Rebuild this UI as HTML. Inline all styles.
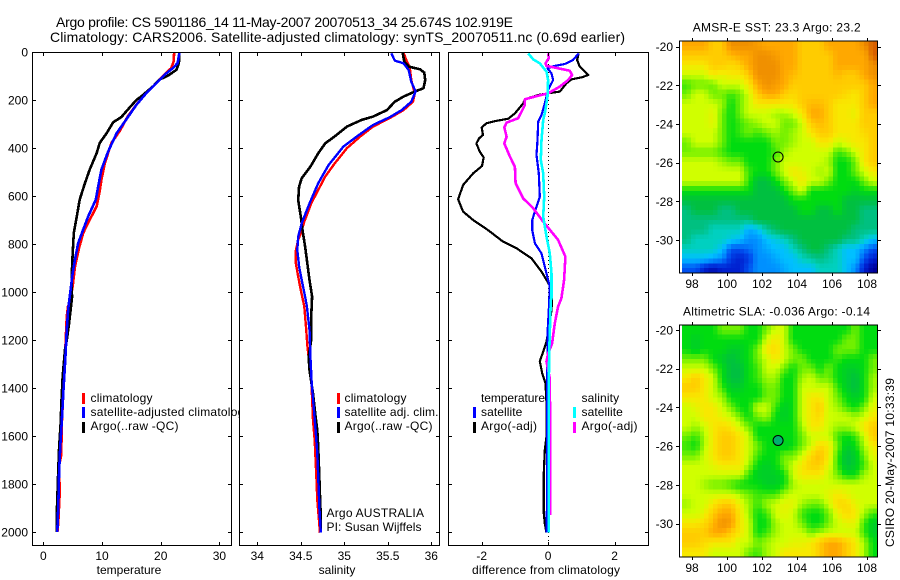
<!DOCTYPE html>
<html lang="en">
<head>
<meta charset="utf-8">
<title>Argo profile CS 5901186_14</title>
<style>
html,body{margin:0;padding:0;background:#fff;width:900px;height:580px;overflow:hidden}
svg{display:block;font-family:"Liberation Sans",Arial,sans-serif;font-size:12px;fill:#000}
.title{font-size:14px}
.frame{fill:none;stroke:#000;stroke-width:1;shape-rendering:crispEdges}
</style>
</head>
<body>
<svg id="figure" width="900" height="580" viewBox="0 0 900 580" xmlns="http://www.w3.org/2000/svg">
  <text class="title" x="56" y="27" textLength="457">Argo profile: CS 5901186_14 11-May-2007 20070513_34 25.674S 102.919E</text>
  <text class="title" x="50" y="42" textLength="575">Climatology: CARS2006. Satellite-adjusted climatology: synTS_20070511.nc (0.69d earlier)</text>

  <g id="panel-t">
    <g id="lines-t"></g>
    <rect x="82" y="393" width="3" height="11" fill="#ff0000"/>
    <rect x="82" y="407" width="3" height="11" fill="#0000ff"/>
    <rect x="82" y="422" width="3" height="11" fill="#000000"/>
    <text x="90.5" y="402" textLength="62">climatology</text>
    <text x="90.5" y="416" textLength="160">satellite-adjusted climatology</text>
    <text x="90.5" y="430" textLength="88">Argo(..raw -QC)</text>
    <text x="129" y="574" text-anchor="middle">temperature</text>
  </g>

  <g id="panel-s">
    <rect x="239" y="52" width="201" height="494" fill="#fff"/>
    <g id="lines-s"></g>
    <rect x="337" y="393" width="3" height="11" fill="#ff0000"/>
    <rect x="337" y="407" width="3" height="11" fill="#0000ff"/>
    <rect x="337" y="422" width="3" height="11" fill="#000000"/>
    <text x="344.5" y="402" textLength="62">climatology</text>
    <text x="344.5" y="416" textLength="94">satellite adj. clim.</text>
    <text x="344.5" y="430" textLength="88">Argo(..raw -QC)</text>
    <text x="326.5" y="517" textLength="97.5">Argo AUSTRALIA</text>
    <text x="326.5" y="531" textLength="95">PI: Susan Wijffels</text>
    <text x="337" y="574" text-anchor="middle">salinity</text>
  </g>

  <g id="panel-d">
    <rect x="448" y="52" width="201" height="494" fill="#fff"/>
    <g id="lines-d"></g>
    <text x="481" y="402" textLength="64">temperature</text>
    <rect x="473" y="407" width="3" height="11" fill="#0000ff"/>
    <rect x="473" y="422" width="3" height="11" fill="#000000"/>
    <text x="481" y="416" textLength="41.3">satellite</text>
    <text x="481" y="430" textLength="56">Argo(-adj)</text>
    <text x="581.5" y="402" textLength="37.6">salinity</text>
    <rect x="573" y="407" width="3" height="11" fill="#00ffff"/>
    <rect x="573" y="422" width="3" height="11" fill="#ff00ff"/>
    <text x="581.5" y="416" textLength="41.3">satellite</text>
    <text x="581.5" y="430" textLength="56">Argo(-adj)</text>
    <text x="472" y="574" textLength="148">difference from climatology</text>
  </g>

  <g id="panel-sst">
    <text x="692.7" y="31.5" textLength="168">AMSR-E SST: 23.3 Argo: 23.2</text>
  </g>
  <g id="panel-sla">
    <text x="683" y="315.5" textLength="187">Altimetric SLA: -0.036 Argo: -0.14</text>
  </g>
  <text transform="translate(894,547) rotate(-90)" textLength="169">CSIRO 20-May-2007 10:33:39</text>
</svg>

<script>
// ---------- axis tick labels ----------
const depthTicks = [0, 200, 400, 600, 800, 1000, 1200, 1400, 1600, 1800, 2000];
const tempTicks = [0, 10, 20, 30];
const salTicks = [34, 34.5, 35, 35.5, 36];
const diffTicks = [-2, 0, 2];
const lonTicks = [98, 100, 102, 104, 106, 108];
const latTicks = [-20, -22, -24, -26, -28, -30];

// ---------- temperature profiles ----------
const tempClimValues = [22.3,22.2,21.8,20.4,19,17.6,16.1,14.4,13,11.6,10.5,9.9,9.6,9.1,7.9,6.8,6.1,5.4,5,4.5,4.2,4,3.85,3.7,3.4,3.17,3.05,2.6,2.83,2.55,2.4];
const tempClimDepths = [0,40,67,100,136,170,212,268,330,379,462,532,580,643,699,754,816,893,976,1045,1060,1100,1180,1280,1420,1540,1680,1735,1820,1960,2000];
const tempArgoValues = [23.2,23.1,22.7,21.2,19.8,18.7,16.7,15.9,14.4,13.3,11.9,10.8,9.6,9.1,7.9,7.1,6.2,5.7,5.2,5,4.9,4.8,4.9,4.4,4,3.7,3.3,3.1,2.95,2.7,2.55,2.4,2.27,2.3];
const tempArgoDepths = [0,46,74,99,115,143,185,199,240,271,293,338,379,421,490,546,615,685,754,838,893,976,1020,1130,1200,1240,1350,1450,1550,1650,1735,1850,1945,2000];
const tempSatValues = [23.2,22.9,22.1,20.7,19.3,17.6,15.9,13.9,12.5,11.05,9.9,9.35,8.95,7.65,6.8,5.95,5.4,5,4.65,4.25,3.97,3.74,3.4,3.17,2.9,2.7,2.55,2.38];
const tempSatDepths = [0,46,67,94,129,170,219,289,338,414,490,560,615,685,740,796,865,921,990,1070,1170,1280,1420,1530,1640,1750,1890,2000];

// ---------- salinity profiles ----------
const salClimValues = [35.68,35.72,35.75,35.77,35.81,35.79,35.68,35.52,35.33,35.18,35.03,34.89,34.78,34.7,34.62,34.54,34.5,34.47,34.44,34.44,34.47,34.5,34.54,34.56,34.575,34.59,34.62,34.64,34.66,34.67,34.68,34.69,34.71,34.72];
const salClimDepths = [3,40,61,117,172,207,242,276,311,353,401,464,519,575,631,707,756,783,832,874,936,992,1061,1145,1221,1270,1353,1533,1617,1700,1783,1867,1957,2003];
const salArgoValues = [35.67,35.69,35.74,35.87,35.92,35.93,35.91,35.81,35.68,35.58,35.49,35.33,35.2,35.03,34.91,34.78,34.7,34.61,34.51,34.48,34.47,34.5,34.52,34.55,34.57,34.6,34.63,34.62,34.62,34.59,34.6,34.64,34.67,34.69,34.7,34.71,34.72,34.73,34.73];
const salArgoDepths = [3,40,61,72,86,117,151,165,186,207,242,269,283,311,346,381,422,478,526,561,617,686,742,811,867,950,1019,1103,1200,1270,1325,1422,1520,1575,1645,1742,1839,1936,2003];
const salSatValues = [35.54,35.58,35.68,35.74,35.77,35.82,35.77,35.66,35.52,35.33,35.14,34.99,34.82,34.7,34.6,34.51,34.47,34.46,34.48,34.51,34.55,34.57,34.6,34.61,34.625,34.645,34.67,34.69,34.705,34.715,34.73];
const salSatDepths = [6,36,47,75,124,165,207,242,272,304,353,394,471,547,631,714,769,825,894,950,1019,1061,1158,1270,1380,1464,1575,1672,1811,1908,2003];

// ---------- differences from climatology ----------
const diffArgoTempValues = [0.92,0.87,0.95,1.06,1.21,1,0.7,0.55,0.35,0,-0.3,-0.7,-0.75,-1,-1.2,-1.6,-1.86,-2,-1.96,-2.08,-2.16,-2.06,-1.94,-1.99,-2.26,-2.56,-2.71,-2.56,-2.26,-1.81,-1.36,-0.95,-0.5,-0.2,-0.05,0.1,0.12,0.1,0.03,-0.05,-0.15,-0.25,-0.18,-0.08,-0.05,-0.05,-0.1,-0.13,-0.13,-0.1,-0.05];
const diffArgoTempDepths = [6,33,61,75,96,106,114,131,165,172,179,197,214,256,278,288,297,314,346,360,381,415,439,475,506,554,614,665,700,742,790,818,860,915,950,985,1026,1075,1145,1207,1249,1288,1339,1380,1464,1603,1658,1755,1922,1964,2003];
const diffSatTempValues = [0.92,0.75,0.5,0.2,-0.02,0.1,0.15,0,-0.1,-0.2,-0.3,-0.32,-0.35,-0.28,-0.25,-0.48,-0.48,-0.4,-0.2,-0.05,0.05,0.02,-0.02,-0.03,-0.04];
const diffSatTempDepths = [6,33,50,58,68,89,117,158,214,262,290,367,429,506,603,700,742,797,839,922,978,1075,1172,1408,2003];
const diffSatSalValues = [-0.6,-0.45,-0.25,-0.05,0,-0.02,-0.1,-0.15,-0.2,-0.22,-0.15,-0.12,-0.15,-0.05,0.05,0.1,0.1,0.08,0.06,0.03,0.02,0.02];
const diffSatSalDepths = [6,31,47,82,117,186,256,283,367,450,506,603,686,769,839,922,1026,1033,1130,1270,1408,2003];
const diffArgoSalValues = [0,0.02,-0.08,-0.05,0.3,0.65,0.72,0.6,0.35,0,-0.4,-0.7,-0.7,-0.9,-1.25,-1.32,-1.25,-1.32,-1.15,-1,-0.98,-0.75,-0.45,-0.15,0.1,0.3,0.52,0.48,0.4,0.3,0.2,0.12,0,-0.05,0.05,0.06,0.06];
const diffArgoSalDepths = [6,26,47,58,68,78,96,117,144,172,186,197,221,276,294,314,353,381,436,478,547,610,651,707,749,783,853,950,1026,1061,1130,1214,1256,1290,1360,1547,1929];

// ---------- profile location ----------
const floatLon = 102.919;
const floatLat = -25.674;

// ---------- map colour indices: 0 navy .. 15 dark orange, rows run north to south, read at 0.5 degree spacing ----------
const sstRows = [
[13,13,13,12,12,14,14,14,13.5,13,13,13,13,12,12,12,13,13,13,13,14,15],
[12,12,12,12,12,12.5,13,13,14,14,13.5,13,13,12,12,12,12,13,13,13,13,15],
[11,11,11,12,12,11.5,12,13,14,14,14,13,13,12,12,12,12,13,13,13,13,14],
[10,10,10,11,10.5,11,11,12,14,14,14,13,12.5,12,12,12,12,12.5,12,12,13,14],
[8.5,9,9,9,10,10,10,11,13,14,13.5,13,12,12,12,12,12,12,12,12,12,13],
[9,10,10,9,9,8.5,9,10,12,13,13,12,11.5,12,12,12,12,12,11.5,11,12,13],
[10,10,10,10,9.5,8,9,10,11,11,11,11,11,12,12.5,12.5,12,11,11,11,12,13],
[10,10,10,10.5,9,8,9,10,10,10,9.5,9.5,10,11,13,13,12,11,11,10.5,12,12],
[10,10,10,10.5,9,8,8.5,9,9.5,10,10,9,9,10,12,12.5,12,11,11,11,12,12],
[10,10,10,10,9,8,8.5,9,8.5,9,9.5,9,9.5,10,11,12,12,11,11,11,11.5,12],
[9,10,10,10,9,8,8,8,8,8,9,9,9.5,10,10,11,11,10,10.5,11,11,12],
[9,9,9,9,8.5,8,8,8,8,8,8.5,9.5,10,10,10,10,10,8.5,9,10,11,12],
[10,10,10,10,9.5,9,9,8,8,8,9,10,10,10,10,10,9.5,8,8,9,11,12],
[10,10,10,10,10,10,10,8.5,8,8,9,10,11,10.5,10,9.5,10,8,8,9,10,11],
[10,10,10,10,10,10,10,8.5,7,7,8,9,10,11,10,10,9,8,8,8,9,10],
[8,8,8,8,8,8,8,8,7,7,7,8,9,10,8,8,8,8,8,7.5,8,8],
[7,7,7,7,7,7,7,7,7,7,7,7,8,8,8,8,8,8,7,7,7,7],
[6,7,7,7,6,6,7,7,7,7,7,7,7,8,8,7,7,8,7,7,6,6],
[6,6,6,6,6,6,6,6,7,7,7,7,7,7,7,7,7,7,7,7,6,6],
[6,6,6,5,5,5,5,3.5,4,5.5,6.5,7,7,7,7,7,7,7,7,6,6,6],
[6,5,5,5,5,4.5,4,3,3,4,4.5,5,6,7,7,7,7,7,6,6,5,4],
[5,5,5,5,4,2,2,2.5,3,3.5,4,4,5,6,7,7,6,5,4,4,3,2],
[4,4,4,3.5,3,1.5,1,1.5,3,3,3.5,4,4,5,5.5,6,5.5,5,4,4,2,1],
[2,2,1,0.5,1,1,1,2,3,3,3,3.5,4,4,4,5,5,5,4,3,1,0]
];
const slaRows = [
[8,8,8,8,9,9,9,8,8,9,10,10,8,8,8,8,8,8,8,9,8,8],
[8,7.5,8,8,8,8,8,8,8,10,11,10,8,8,8,8,8,8,9,9,8,8],
[8,7.5,8,8,8,7.5,7.5,8,9,11,11.5,10,9,8,8,8,8,9,9,9,8,8],
[9,9,9,8,7.5,7,7.5,8,9,10,11,10,9,9,8,8,8,8.5,8,8,8,9],
[10,10,10,9,8,7,7,8,8.5,10,10,9,8,9,9,8,9,8,7.5,7.5,8,9],
[11,12,11,10,8,7,7,8,8.5,9.5,9.5,8,8,9.5,10,9,9,8,7.5,7,8,9.5],
[12,12,11,10,8.5,7.5,7.5,8,8,9,9,8,8,10,10,10,10,8.5,7.5,7,8,9.5],
[11,11,11,10,9.5,8,8,8,8,9,9,8,8,10,11,11,10,9,8,7.5,8,10],
[10,10.5,11,11,10,9,8,8,10,10,8.5,7.5,8,10,11,12,10,9.5,8.5,8,9,10.5],
[10,10,11,11,10.5,10,9,8,9,9.5,8,7.5,8,10,11,11.5,10,10,10,9.5,10,11],
[10,9.5,10,11,11.5,11,10,9,8,8,8,8,8,9.5,11,11,10,9.5,9.5,10,11,12],
[9,8.5,9.5,11,12,12,11,10,8,8,8,8,8,9,10,10,10,8.5,8,8.5,10,12],
[8.5,8,9.5,11,12,12,11,10,9,8,8,7.5,8,9,10,11.5,11,9,7.5,8,9.5,11],
[9,9,10,11,12,12,11,10,8.5,8,8,9,9,10,11.5,12.5,11,8.5,7,7.5,9,10.5],
[10,10,10,10.5,11,11,11,9.5,8,7.5,8,9,10,11,12,12,10.5,8.5,7,7.5,8.5,10],
[10,10,10,10,10,10,10,8.5,7.5,7.5,7.5,8,10,11,11,11,10,9,8,8,9.5,10],
[10,10,9.5,9,9,8.5,8,8,8,7.5,7.5,8,9.5,10,10,10,10,10,10,10,10,10],
[10,10,10,10,10,10,9.5,9,8.5,8.5,8.5,9.5,10,10,10,10,10.5,11,10.5,10,10,10],
[9.5,10,10,11,12,12,10.5,9.5,8.5,9.5,10,10.5,10.5,9.5,9,9,10,11.5,11.5,10.5,10,10],
[10,10,10.5,12,13,13,11,9.5,8,8.5,10,10.5,10,8.5,8,8,9,10.5,11.5,11,9.5,8.5],
[11,11,11.5,12.5,14,13.5,11,10,8,8,9.5,10,10,9,8,8,9,10,10.5,10.5,8.5,7.5],
[12,12,12,13,13,12,11,10,8,8.5,9.5,10,10,10,9,9.5,10,10,10,10,8.5,7.5],
[12,12,11.5,11,11,11,10,10,9,9.5,10,10,10.5,10.5,11,12,13,13,12,11,9.5,8],
[11,11,11,10,10,10,10,9,8.5,9.5,10,11,11,11,11,12,13,13,12,11,9.5,8]
];
const paletteStops = ['#000099','#0020d0','#0050f0','#0090ff','#00c0ff','#00d0c0','#00c080','#00c040','#00dc10','#70f000','#d0ff00','#f8e800','#ffcc00','#ffa800','#f09000','#d86000'];

// ---------- rendering ----------
const NS = 'http://www.w3.org/2000/svg';
function make(tag, parent, attrs) {
  const el = document.createElementNS(NS, tag);
  for (const k in attrs) el.setAttribute(k, attrs[k]);
  parent.appendChild(el);
  return el;
}
function depthAxis(d) { return 52 + d * 0.24; }
function linear(v0, p0, v1, p1) { return function (v) { return p0 + (v - v0) * (p1 - p0) / (v1 - v0); }; }

const tempX = linear(0, 43.3, 30, 219.4);
const salX = linear(34, 257.3, 36, 431.3);
const diffX = linear(-2, 481.7, 2, 614.6);

function drawProfile(group, values, depths, xAxis, colour, width, name) {
  const pts = values.map(function (v, i) { return xAxis(v).toFixed(1) + ',' + depthAxis(depths[i]).toFixed(1); }).join(' ');
  const el = make('polyline', group, { points: pts, fill: 'none', stroke: colour, 'stroke-width': width, 'stroke-linejoin': 'round', 'shape-rendering': 'crispEdges' });
  
  
}

function drawProfileAxes(panel, left, right, xTicks, xAxis, showDepthLabels) {
  const frame = make('rect', panel, { x: left + 0.5, y: 52.5, width: right - left, height: 493, class: 'frame' });
  
  
  xTicks.forEach(function (t) {
    const x = Math.round(xAxis(t)) + 0.5;
    const top = make('path', panel, { d: 'M' + x + ' 52V56M' + x + ' 546V542', stroke: '#000', 'shape-rendering': 'crispEdges', fill: 'none' });
    
    
    const label = make('text', panel, { x: xAxis(t), y: 560, 'text-anchor': 'middle' });
    label.textContent = String(t);
    
    
  });
  depthTicks.forEach(function (d) {
    const y = Math.round(depthAxis(d)) + 0.5;
    const tick = make('path', panel, { d: 'M' + left + ' ' + y + 'h4M' + (right + 1) + ' ' + y + 'h-4', stroke: '#000', 'shape-rendering': 'crispEdges', fill: 'none' });
    
    
    if (showDepthLabels) {
      const label = make('text', panel, { x: 28, y: depthAxis(d) + 4.5, 'text-anchor': 'end' });
      label.textContent = String(d);
      
      
    }
  });
}

function paletteColour(level) {
  const c = Math.max(0, Math.min(paletteStops.length - 1, level));
  const i = Math.min(paletteStops.length - 2, Math.floor(c));
  const f = c - i;
  const a = paletteStops[i], b = paletteStops[i + 1];
  const out = [1, 3, 5].map(function (p) {
    const va = parseInt(a.substr(p, 2), 16), vb = parseInt(b.substr(p, 2), 16);
    return Math.round(va + (vb - va) * f);
  });
  return 'rgb(' + out.join(',') + ')';
}

// The map image shows 0.25 degree cells; each is shaded from the neighbouring 0.5 degree values in the rows array.
function sampleGrid(rows, r, c) {
  const nr = rows.length, nc = rows[0].length;
  const rr = Math.max(0, Math.min(nr - 1, r));
  const cc = Math.max(0, Math.min(nc - 1, c));
  const r0 = Math.floor(rr), c0 = Math.floor(cc);
  const r1 = Math.min(nr - 1, r0 + 1), c1 = Math.min(nc - 1, c0 + 1);
  const fr = rr - r0, fc = cc - c0;
  return (rows[r0][c0] * (1 - fc) + rows[r0][c1] * fc) * (1 - fr) + (rows[r1][c0] * (1 - fc) + rows[r1][c1] * fc) * fr;
}

function drawMap(panel, rows, latY, top, bottom, circleFill) {
  const lonX = linear(100, 727, 108, 867);
  const left = 682, right = 877.5, frameLeft = 679;
  const nRows = rows.length * 2, nCols = rows[0].length * 2;
  const cw = (right - left) / nCols;
  const ch = (bottom - top) / nRows;
  for (let r = 0; r < nRows; r++) {
    for (let c = 0; c < nCols; c++) {
      const v = sampleGrid(rows, (r + 0.5) / 2 - 0.5, (c + 0.5) / 2 - 0.5);
      const cell = make('rect', panel, { x: (left + c * cw).toFixed(2), y: (top + r * ch).toFixed(2), width: (cw + 0.6).toFixed(2), height: (ch + 0.6).toFixed(2), fill: paletteColour(v), 'shape-rendering': 'crispEdges' });
      
      
    }
  }
  const blank = make('rect', panel, { x: 878, y: top - 1, width: 4, height: bottom - top + 2, fill: '#fff' });
  
  
  const frame = make('rect', panel, { x: frameLeft + 0.5, y: top + 0.5 - 0.5, width: 198, height: bottom - top, class: 'frame' });
  
  
  lonTicks.forEach(function (t) {
    const x = Math.round(lonX(t)) + 0.5;
    const tick = make('path', panel, { d: 'M' + x + ' ' + top + 'v-3M' + x + ' ' + bottom + 'v3', stroke: '#000', 'shape-rendering': 'crispEdges', fill: 'none' });
    
    
    const label = make('text', panel, { x: lonX(t), y: bottom + 15, 'text-anchor': 'middle' });
    label.textContent = String(t);
    
    
  });
  latTicks.forEach(function (t) {
    const y = Math.round(latY(t)) + 0.5;
    const tick = make('path', panel, { d: 'M' + frameLeft + ' ' + y + 'h-3M' + (frameLeft + 199) + ' ' + y + 'h3', stroke: '#000', 'shape-rendering': 'crispEdges', fill: 'none' });
    
    
    const label = make('text', panel, { x: 673, y: latY(t) + 4.5, 'text-anchor': 'end' });
    label.textContent = String(t);
    
    
  });
  const marker = make('circle', panel, { cx: lonX(floatLon), cy: latY(floatLat) + 0.6, r: 5, fill: circleFill, stroke: '#000', 'stroke-width': 1 });
  
  
}

const linesT = document.getElementById('lines-t');
const linesS = document.getElementById('lines-s');
const linesD = document.getElementById('lines-d');

drawProfile(linesT, tempClimValues, tempClimDepths, tempX, '#ff0000', 2.6, 'temperature-climatology');
drawProfile(linesT, tempArgoValues, tempArgoDepths, tempX, '#000000', 2.6, 'temperature-argo');
drawProfile(linesT, tempSatValues, tempSatDepths, tempX, '#0000ff', 2.6, 'temperature-satellite-adjusted');
drawProfileAxes(document.getElementById('panel-t'), 32, 231, tempTicks, tempX, true);

drawProfile(linesS, salClimValues, salClimDepths, salX, '#ff0000', 2.4, 'salinity-climatology');
drawProfile(linesS, salArgoValues, salArgoDepths, salX, '#000000', 2.6, 'salinity-argo');
drawProfile(linesS, salSatValues, salSatDepths, salX, '#0000ff', 2.4, 'salinity-satellite-adjusted');
drawProfileAxes(document.getElementById('panel-s'), 239, 439, salTicks, salX, false);

const zeroLine = make('line', linesD, { x1: Math.round(diffX(0)) + 0.5, x2: Math.round(diffX(0)) + 0.5, y1: 52, y2: 546, stroke: '#000', 'stroke-dasharray': '1 3', 'shape-rendering': 'crispEdges' });


drawProfile(linesD, diffArgoTempValues, diffArgoTempDepths, diffX, '#000000', 2.2, 'difference-temperature-argo');
drawProfile(linesD, diffSatTempValues, diffSatTempDepths, diffX, '#0000ff', 2.2, 'difference-temperature-satellite');
drawProfile(linesD, diffArgoSalValues, diffArgoSalDepths, diffX, '#ff00ff', 2.6, 'difference-salinity-argo');
drawProfile(linesD, diffSatSalValues, diffSatSalDepths, diffX, '#00ffff', 2.6, 'difference-salinity-satellite');
drawProfileAxes(document.getElementById('panel-d'), 448, 648, diffTicks, diffX, false);

drawMap(document.getElementById('panel-sst'), sstRows, linear(-20, 46.7, -30, 240), 41, 273, 'none');
drawMap(document.getElementById('panel-sla'), slaRows, linear(-20, 330, -30, 523.7), 325, 557, '#00b070');
</script>
</body>
</html>
